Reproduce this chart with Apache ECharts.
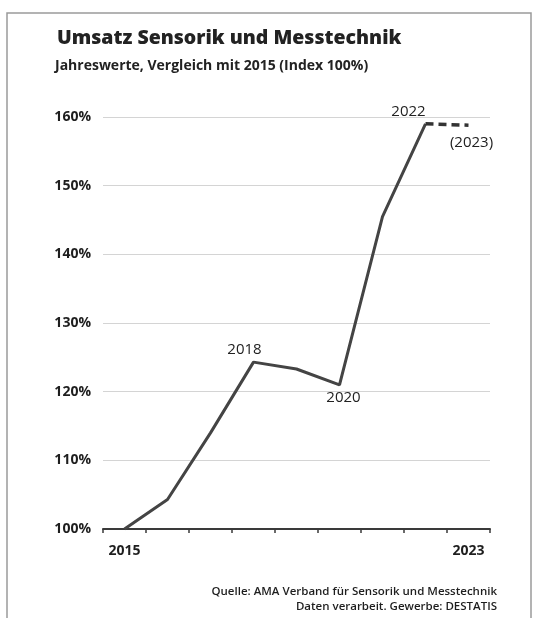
<!DOCTYPE html>
<html>
<head>
<meta charset="utf-8">
<script src="https://cdn.jsdelivr.net/npm/echarts@6/dist/echarts.min.js"></script>
<style>
html,body{margin:0;padding:0;background:#fff;}
#c{width:539px;height:618px;}
</style>
</head>
<body>
<div id="c"></div>
<script>
var years = ['2015','2016','2017','2018','2019','2020','2021','2022','2023'];
var actualValues = [100, 104.3, 114, 124.3, 123.3, 121.0, 145.5, 159.0, null];
var forecastValues = [null, null, null, null, null, null, null, 159.0, 158.8];
var yTicks = [100, 110, 120, 130, 140, 150, 160];
var shownXLabels = ['2015', '2023'];
var sourceLines = ['Quelle: AMA Verband für Sensorik und Messtechnik', 'Daten verarbeit. Gewerbe: DESTATIS'];
var annotated = {'2018': {pos:'top', off:[-9,0], text:'2018'},
                 '2020': {pos:'bottom', off:[4,0], text:'2020'},
                 '2022': {pos:'top', off:[-17,0], text:'2022'}};

var labelStyle = {fontFamily:'Open Sans', fontSize:15, color:'#222'};
var actualData = actualValues.map(function(v, i){
  var a = annotated[years[i]];
  if (!a || v === null) return v;
  return {value: v, label: Object.assign({show:true, position:a.pos, offset:a.off, formatter:a.text, distance:5}, labelStyle)};
});
var forecastData = forecastValues.map(function(v, i){
  if (i === years.length - 1 && v !== null) {
    return {value: v, label: Object.assign({show:true, position:'bottom', offset:[3,5], formatter:'(' + years[i] + ')', distance:5}, labelStyle)};
  }
  return v;
});

var chart = echarts.init(document.getElementById('c'), null, {renderer:'canvas'});
chart.setOption({
  backgroundColor:'#fff',
  animation:false,
  title:[
    {text:'Umsatz Sensorik und Messtechnik', left:52, top:23,
     textStyle:{fontFamily:'Open Sans', fontWeight:800, fontSize:19.5, color:'#222'}},
    {text:'Jahreswerte, Vergleich mit 2015 (Index 100%)', left:50, top:54,
     textStyle:{fontFamily:'Open Sans', fontWeight:'bold', fontSize:14, color:'#222'}}
  ],
  graphic:[
    {type:'rect', shape:{x:7, y:13, width:524, height:610}, style:{fill:null, stroke:'#9a9a9a', lineWidth:1.5}, silent:true},
    {type:'text', x:497, y:592, silent:true,
     style:{text:sourceLines[0], align:'right', verticalAlign:'middle', fontFamily:'Open Sans', fontWeight:600, fontSize:11.5, fill:'#1e1e1e'}},
    {type:'text', x:497, y:607, silent:true,
     style:{text:sourceLines[1], align:'right', verticalAlign:'middle', fontFamily:'Open Sans', fontWeight:600, fontSize:11.5, fill:'#1e1e1e'}}
  ],
  grid:{left:103, right:49, top:117, bottom:89},
  xAxis:{
    type:'category', data:years, boundaryGap:true,
    axisLine:{show:true, lineStyle:{color:'#3a3a3a', width:2}},
    axisTick:{show:true, inside:false, length:4, alignWithLabel:false, lineStyle:{color:'#3a3a3a', width:1.5}},
    axisLabel:{interval:0, margin:15, fontFamily:'Open Sans', fontWeight:'bold', fontSize:14, color:'#1e1e1e',
      formatter:function(v){ return shownXLabels.indexOf(v) >= 0 ? v : ''; }},
    splitLine:{show:false}
  },
  yAxis:{
    type:'value', min:yTicks[0], max:yTicks[yTicks.length-1], interval:10,
    axisLine:{show:false}, axisTick:{show:false},
    axisLabel:{margin:12, fontFamily:'Open Sans', fontWeight:'bold', fontSize:14, color:'#1e1e1e',
      formatter:function(v){ return v + '%'; }},
    splitLine:{show:true, lineStyle:{color:'#d4d4d4', width:1}}
  },
  series:[
    {type:'line', data:actualData, symbol:'circle', symbolSize:0, showSymbol:true, connectNulls:false,
     itemStyle:{color:'#444'}, lineStyle:{color:'#444', width:3}, z:3},
    {type:'line', data:forecastData, symbol:'circle', symbolSize:0, showSymbol:true,
     itemStyle:{color:'#333'}, lineStyle:{color:'#333', width:3.5, type:[8,5]}, z:3}
  ]
});
</script>
</body>
</html>
